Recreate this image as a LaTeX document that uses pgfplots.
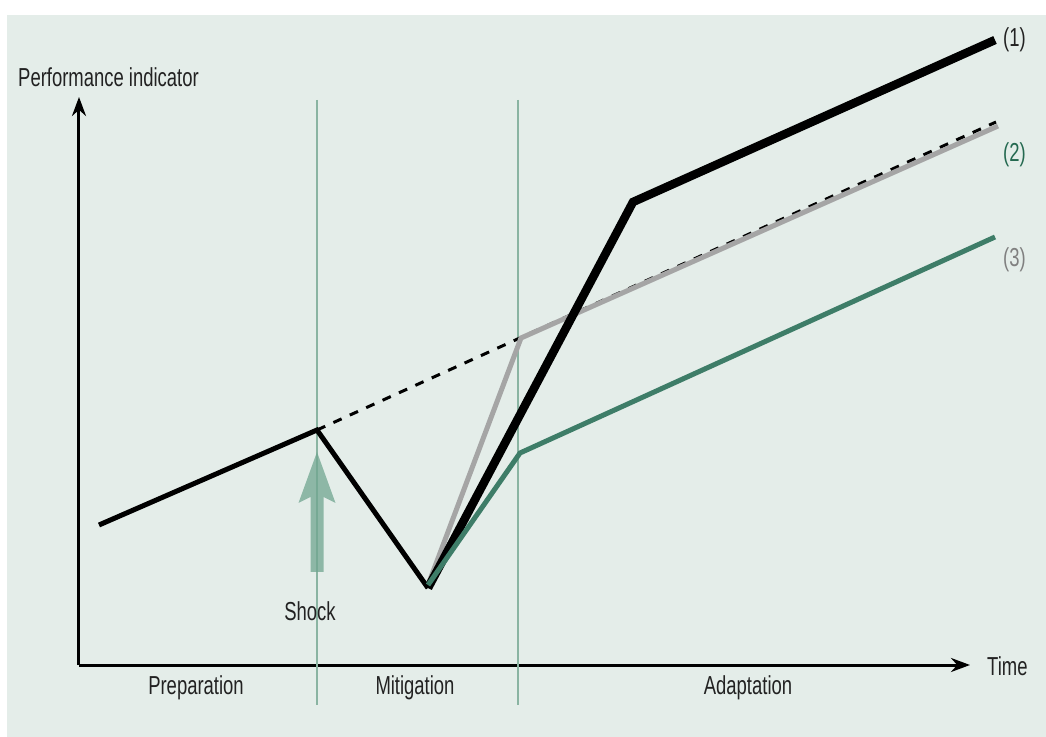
\documentclass[border=0pt]{standalone}
\usepackage{pgfplots}
\pgfplotsset{compat=1.18}
\usepackage{fontspec}
\setmainfont{Liberation Sans}[FakeStretch=0.71]
\usetikzlibrary{arrows.meta}
\definecolor{bg}{RGB}{228,237,233}
\definecolor{vline}{RGB}{138,180,162}
\definecolor{dgreen}{RGB}{62,125,104}
\definecolor{lab2}{RGB}{36,105,80}
\definecolor{lgray}{RGB}{165,165,165}
\definecolor{lab3}{RGB}{128,128,128}
\definecolor{txt}{RGB}{34,34,34}
\definecolor{shock}{RGB}{112,166,144}
\begin{document}
\begin{tikzpicture}[lab/.style={font=\fontsize{26bp}{30bp}\selectfont, text=txt, inner sep=0pt}]
\useasboundingbox (-79bp,-72bp) rectangle (967bp,665bp);
\fill[white] (-79bp,-72bp) rectangle (967bp,665bp);
\fill[bg] (-72bp,-72bp) rectangle (967bp,650bp);
\begin{axis}[
  at={(0bp,0bp)}, anchor=south west,
  scale only axis, width=891bp, height=568bp,
  xmin=0, xmax=891, ymin=0, ymax=568,
  axis lines=left, xtick=\empty, ytick=\empty,
  axis line style={line width=3bp, -{Stealth[length=19bp,width=14bp]}},
  clip=false,
]
% phase separators
\draw[vline, line width=2bp] (axis cs:238,565) -- (axis cs:238,-40);
\draw[vline, line width=2bp] (axis cs:439,565) -- (axis cs:439,-40);
% shock arrow
\fill[shock, opacity=0.75] (axis cs:231.5,93) -- (axis cs:231.5,168) -- (axis cs:219.5,162)
   -- (axis cs:238,213) -- (axis cs:256.5,162) -- (axis cs:244.5,168) -- (axis cs:244.5,93) -- cycle;
% counterfactual trend
\addplot[black, line width=3bp, dash pattern=on 9bp off 9bp] coordinates {(238,235) (917,543)};
% (2)
\addplot[lgray, line width=5bp, line join=miter] coordinates {(349,80) (442,327) (919,539)};
% pre-shock and shock
\addplot[black, line width=5bp, line join=miter] coordinates {(20,140) (238,235) (349,77)};
% (1)
\addplot[black, line width=8.5bp, line join=miter] coordinates {(349,77) (554,463) (916,625)};
% (3)
\addplot[dgreen, line width=5bp, line join=miter] coordinates {(349,80) (441,212) (916,428)};
% labels
\node[lab, anchor=base west] at (axis cs:-61,578) {Performance indicator};
\node[lab, anchor=base west] at (axis cs:908,-10) {Time};
\node[lab, anchor=base] at (axis cs:117,-29) {Preparation};
\node[lab, anchor=base] at (axis cs:336,-29) {Mitigation};
\node[lab, anchor=base] at (axis cs:669,-29) {Adaptation};
\node[lab, anchor=base] at (axis cs:231,45) {Shock};
\node[lab, anchor=base west] at (axis cs:924,618) {(1)};
\node[lab, anchor=base west, text=lab2] at (axis cs:924,503) {(2)};
\node[lab, anchor=base west, text=lab3] at (axis cs:924,398) {(3)};
\end{axis}
\end{tikzpicture}
\end{document}
